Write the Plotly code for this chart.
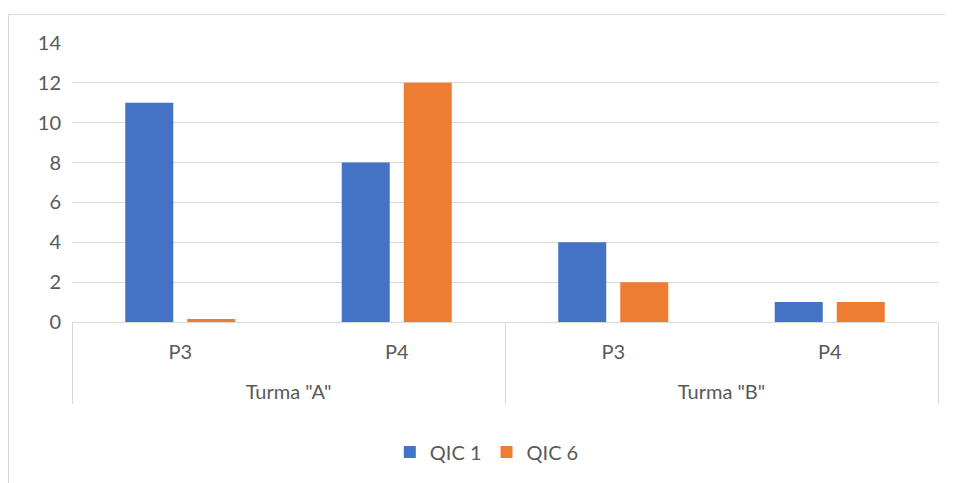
import plotly.graph_objects as go

groups = ['<br>Turma "A"', '<br>Turma "A"', '<br>Turma "B"', '<br>Turma "B"']
tests = ["P3", "P4", "P3", "P4"]
qic1 = [11, 8, 4, 1]
qic6 = [0.15, 12, 2, 1]
series_names = ["QIC 1", "QIC 6"]
colors = ["#4472C4", "#ED7D31"]

font = dict(family="Lato, Open Sans, sans-serif", size=20, color="#595959")

fig = go.Figure()
for name, vals, col in zip(series_names, [qic1, qic6], colors):
    fig.add_trace(go.Bar(x=[groups, tests], y=vals, name=name,
                         marker=dict(color=col, line=dict(width=0))))

# page offset of 8px (body margin) -> plot area at page x 72..938, y 43..322
fig.update_layout(
    width=953, height=483,
    margin=dict(l=64, r=23, t=35, b=169),
    paper_bgcolor="white", plot_bgcolor="white",
    font=font,
    barmode="group", bargap=0.427, bargroupgap=0.226,
    showlegend=True,
    legend=dict(orientation="h", x=0.479, xanchor="center", y=-0.466, yanchor="middle",
                font=font, traceorder="normal"),
    xaxis=dict(type="multicategory", showgrid=False, showline=True, linecolor="#D9D9D9",
               linewidth=1, showdividers=True, dividercolor="#D9D9D9", dividerwidth=1,
               ticks="", tickfont=font, ticklabelstandoff=12),
    yaxis=dict(range=[0, 14], dtick=2, showgrid=True, gridcolor="#D9D9D9", gridwidth=1,
               zeroline=False, showline=False, ticks="", tickfont=font, ticklabelstandoff=10),
    shapes=[dict(type="rect", xref="paper", yref="paper",
                 x0=(8.5 - 72) / 866, x1=(965 - 72) / 866,
                 y0=(322 - 495) / 279, y1=(322 - 14.5) / 279,
                 line=dict(color="#D9D9D9", width=1), fillcolor="rgba(0,0,0,0)", layer="below")],
)

fig.write_html("out.html")
